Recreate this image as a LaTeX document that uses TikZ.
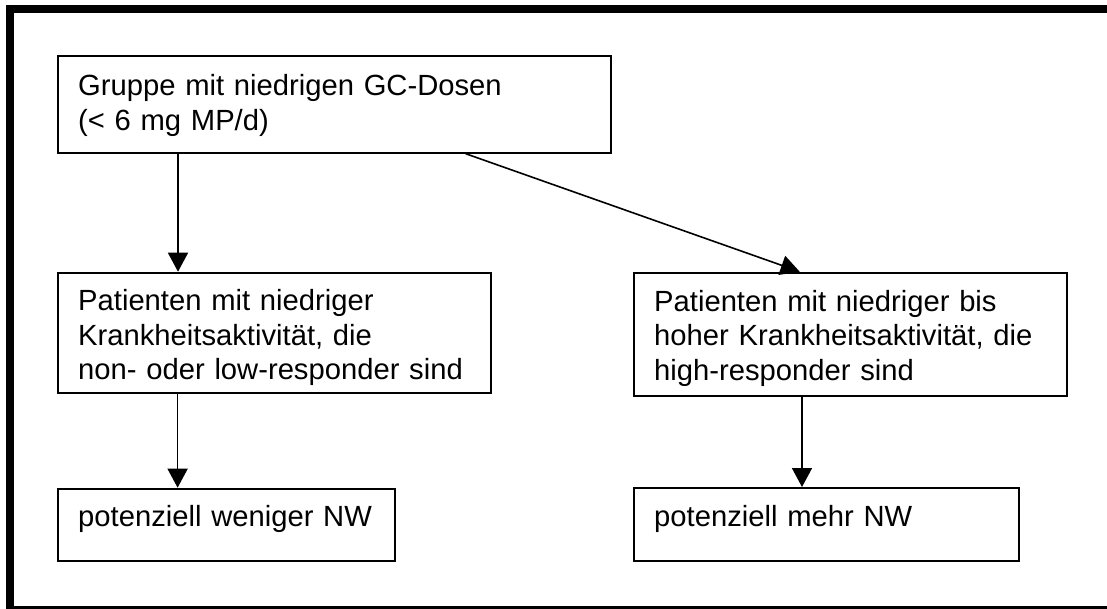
\documentclass[tikz,border=0pt]{standalone}
\usepackage{fontspec}
\setmainfont{Liberation Sans}
\usetikzlibrary{arrows.meta}
\tikzset{
  box/.style={draw=black, line width=2pt, rectangle, inner sep=0pt, fill=white},
  txt/.style={anchor=base west, inner sep=0pt, align=left, text width=520pt,
    font=\fontsize{29.2}{34.5}\selectfont},
  arr/.style={line width=1.6pt, -{Triangle[width=20pt,length=19pt]}},
}
\begin{document}
\begin{tikzpicture}[x=1pt,y=-1pt]
\useasboundingbox (0,0) rectangle (1107,608);
\clip (0,0) rectangle (1107,608);
\fill[white] (0,0) rectangle (1107,608);
\draw[line width=8pt] (10,8.5) rectangle (1120,609.5);
% boxes
\node[box, minimum width=552.7pt, minimum height=96.4pt] (b1) at (334.35,104.5) {};
\node[box, minimum width=433pt, minimum height=120pt] (b2) at (274.5,332.7) {};
\node[box, minimum width=432.7pt, minimum height=123pt] (b3) at (850.65,334.2) {};
\node[box, minimum width=337pt, minimum height=72pt] (b4) at (226.5,524.7) {};
\node[box, minimum width=384.7pt, minimum height=72.7pt] (b5) at (826.65,524.35) {};
% texts
\node[txt] (t1) at (78,95.7) {Gruppe mit niedrigen GC-Dosen\\(< 6 mg MP/d)};
\node[txt] (t2) at (78,310.7) {Patienten mit niedriger\\Krankheitsaktivität, die\\non- oder low-responder sind};
\node[txt] (t3) at (654,311) {Patienten mit niedriger bis\\hoher Krankheitsaktivität, die\\high-responder sind};
\node[txt] (t4) at (78,526.7) {potenziell weniger NW};
\node[txt] (t5) at (654,526) {potenziell mehr NW};
% arrows
\draw[arr] ([xshift=121pt]b1.south west) -- ([xshift=121pt]b2.north west);
\draw[arr] ([xshift=408.7pt]b1.south west) -- ([xshift=166.4pt]b3.north west);
\draw[arr] ([xshift=120.6pt]b2.south west) -- ([xshift=120.6pt]b4.north west);
\draw[arr] ([xshift=168.7pt]b3.south west) -- ([xshift=168.7pt]b5.north west);
\end{tikzpicture}
\end{document}
